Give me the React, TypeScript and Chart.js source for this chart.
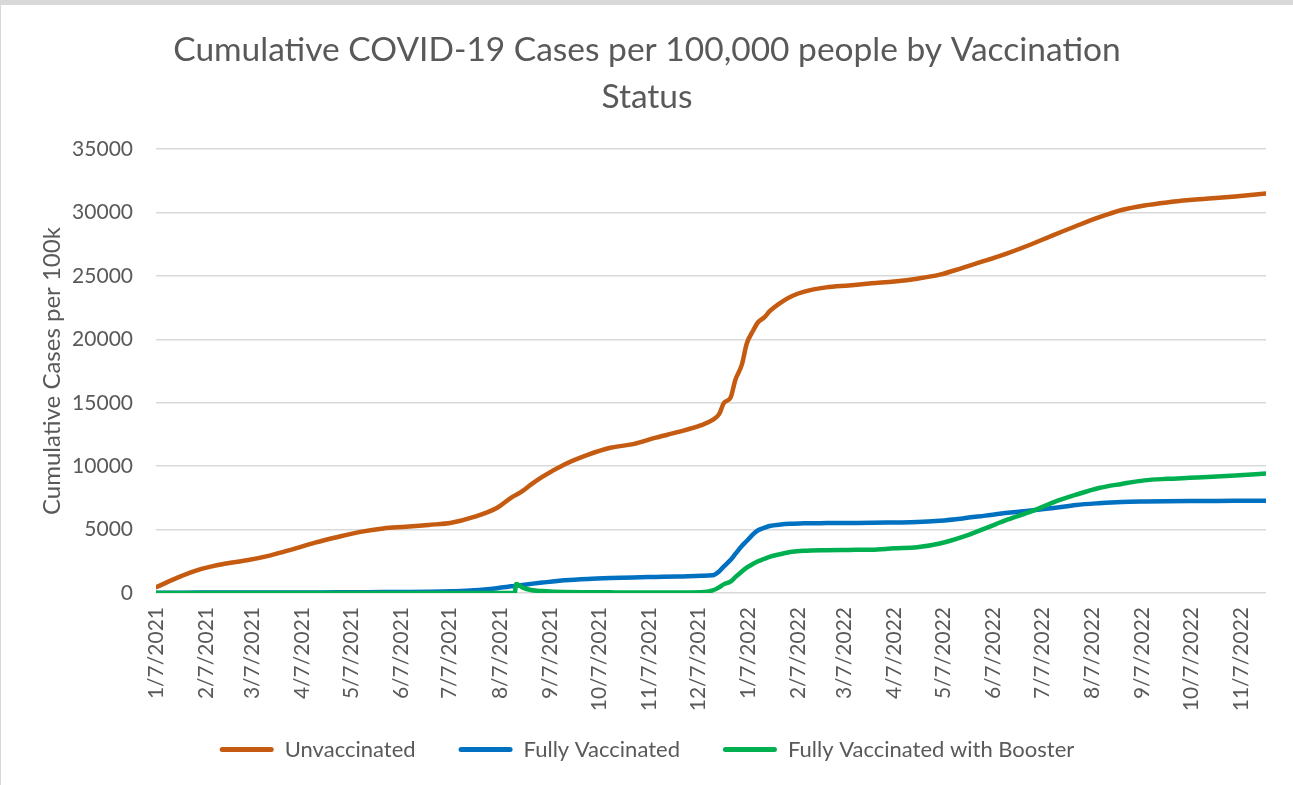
import React, { useEffect, useRef } from "react";
import { Chart, registerables } from "chart.js";

Chart.register(...registerables);

// ---------- data ----------
const titleLines = ["Cumulative COVID-19 Cases per 100,000 people by Vaccination", "Status"];
const yAxisTitle = "Cumulative Cases per 100k";
const seriesNames = ["Unvaccinated", "Fully Vaccinated", "Fully Vaccinated with Booster"];
const seriesColors = ["#C55A11", "#0070C0", "#00B050"];

const xTickLabels = [
  "1/7/2021", "2/7/2021", "3/7/2021", "4/7/2021", "5/7/2021", "6/7/2021",
  "7/7/2021", "8/7/2021", "9/7/2021", "10/7/2021", "11/7/2021", "12/7/2021",
  "1/7/2022", "2/7/2022", "3/7/2022", "4/7/2022", "5/7/2022", "6/7/2022",
  "7/7/2022", "8/7/2022", "9/7/2022", "10/7/2022", "11/7/2022",
];

const sampleDates = [
  "2021-01-07", "2021-01-21", "2021-02-04", "2021-02-18", "2021-03-04", "2021-03-18",
  "2021-04-01", "2021-04-15", "2021-04-29", "2021-05-13", "2021-05-27", "2021-06-10",
  "2021-06-24", "2021-07-08", "2021-07-22", "2021-08-05", "2021-08-12", "2021-08-16",
  "2021-08-17", "2021-08-21", "2021-08-26", "2021-09-02", "2021-09-16", "2021-09-30",
  "2021-10-14", "2021-10-28", "2021-11-11", "2021-11-25", "2021-12-09", "2021-12-16",
  "2021-12-20", "2021-12-23", "2021-12-27", "2021-12-30", "2022-01-03", "2022-01-06",
  "2022-01-10", "2022-01-13", "2022-01-17", "2022-01-20", "2022-01-27", "2022-02-03",
  "2022-02-10", "2022-02-24", "2022-03-10", "2022-03-24", "2022-04-07", "2022-04-21",
  "2022-05-05", "2022-05-19", "2022-06-02", "2022-06-16", "2022-06-30", "2022-07-14",
  "2022-07-28", "2022-08-11", "2022-08-25", "2022-09-08", "2022-09-22", "2022-10-06",
  "2022-10-20", "2022-11-03", "2022-11-22",
];

const unvaccinated = [
  450, 1250, 1900, 2300, 2580, 2950, 3440, 3970, 4420, 4820,
  5090, 5220, 5370, 5540, 6000, 6700, 7350, 7680, 7740, 8050,
  8540, 9150, 10150, 10890, 11450, 11740, 12250, 12700, 13230, 13650,
  14100, 15000, 15400, 16800, 18000, 19650, 20700, 21350, 21750, 22200,
  22900, 23420, 23750, 24100, 24250, 24420, 24560, 24780, 25100, 25640,
  26200, 26800, 27480, 28220, 28940, 29620, 30200, 30560, 30800, 30980,
  31120, 31270, 31500,
];

const fullyVaccinated = [
  20, 25, 30, 30, 35, 35, 40, 45, 50, 60,
  70, 85, 105, 140, 210, 380, 500, 560, 580, 640,
  720, 820, 1000, 1110, 1180, 1230, 1265, 1300, 1360, 1400,
  1700, 2100, 2600, 3080, 3700, 4100, 4650, 4950, 5150, 5280,
  5400, 5460, 5500, 5510, 5520, 5530, 5560, 5590, 5700, 5880,
  6100, 6320, 6500, 6700, 6940, 7080, 7180, 7220, 7240, 7250,
  7260, 7270, 7280,
];

const fullyVaccinatedBooster = [
  0, 0, 0, 0, 0, 0, 0, 0, 0, 0,
  0, 0, 0, 0, 0, 0, 0, 0, 700, 420,
  230, 150, 70, 60, 50, 45, 40, 40, 60, 200,
  450, 700, 900, 1250, 1700, 2000, 2300, 2500, 2700, 2850,
  3070, 3250, 3330, 3380, 3400, 3420, 3520, 3600, 3900, 4420,
  5100, 5800, 6410, 7150, 7750, 8280, 8600, 8880, 9000, 9080,
  9160, 9260, 9430,
];

const yTickValues = [0, 5000, 10000, 15000, 20000, 25000, 30000, 35000];

// ---------- helpers ----------
const FONT = "Lato, 'Open Sans', sans-serif";
const TEXT = "#595959";
const GRID = "#d9d9d9";

const baseUTC = (() => {
  const [y, m, d] = sampleDates[0].split("-").map(Number);
  return Date.UTC(y, m - 1, d);
})();
const isoDay = (iso: string) => {
  const [y, m, d] = iso.split("-").map(Number);
  return Math.round((Date.UTC(y, m - 1, d) - baseUTC) / 86400000);
};
const mdyDay = (s: string) => {
  const [m, d, y] = s.split("/").map(Number);
  return Math.round((Date.UTC(y, m - 1, d) - baseUTC) / 86400000);
};
const xDays = sampleDates.map(isoDay);
const tickDays = xTickLabels.map(mdyDay);
const seriesValues = [unvaccinated, fullyVaccinated, fullyVaccinatedBooster];

export default function App() {
  const ref = useRef<HTMLCanvasElement | null>(null);

  useEffect(() => {
    if (!ref.current) return;
    const chart = new Chart(ref.current, {
      type: "line",
      data: {
        datasets: seriesNames.map((name, i) => ({
          label: name,
          data: seriesValues[i].map((v, k) => ({ x: xDays[k], y: v })),
          borderColor: seriesColors[i],
          backgroundColor: seriesColors[i],
          borderWidth: 4.5,
          pointRadius: 0,
          cubicInterpolationMode: "monotone" as const,
          borderCapStyle: "round" as const,
          borderJoinStyle: "round" as const,
          fill: false,
          order: 2 - i,
        })),
      },
      options: {
        animation: false,
        responsive: false,
        devicePixelRatio: 1,
        layout: { padding: { left: 14, right: 13, top: 0, bottom: 14.5 } },
        plugins: {
          tooltip: { enabled: false },
          title: {
            display: true,
            text: titleLines,
            color: TEXT,
            font: { family: FONT, size: 33.5, weight: "normal", lineHeight: 1.39 },
            padding: { top: 27, bottom: 29 },
          },
          legend: {
            position: "bottom",
            labels: {
              color: TEXT,
              font: { family: FONT, size: 22 },
              boxWidth: 54,
              boxHeight: 5,
              padding: 43,
              useBorderRadius: true,
              borderRadius: 2.5,
              generateLabels: () =>
                seriesNames.map((name, i) => ({
                  text: name,
                  fillStyle: seriesColors[i],
                  strokeStyle: seriesColors[i],
                  lineWidth: 0,
                  fontColor: TEXT,
                  hidden: false,
                  datasetIndex: i,
                  borderRadius: 2.5,
                })),
            },
          },
        },
        scales: {
          x: {
            type: "linear",
            min: xDays[0],
            max: xDays[xDays.length - 1],
            afterBuildTicks: (scale: any) => {
              scale.ticks = tickDays.map((v) => ({ value: v }));
            },
            afterFit: (scale: any) => {
              scale.height = 102.5;
              scale.paddingRight = 27;
              // let the rotated labels extend below the axis box (as in the original)
              scale._computeLabelArea = () => undefined;
            },
            ticks: {
              autoSkip: false,
              minRotation: 90,
              maxRotation: 90,
              padding: 14,
              color: TEXT,
              font: { family: FONT, size: 21 },
              callback: (value: any) => {
                const i = tickDays.indexOf(Number(value));
                return i >= 0 ? xTickLabels[i] : "";
              },
            },
            grid: { display: false, drawTicks: false },
            border: { display: false },
          },
          y: {
            min: 0,
            max: 35000,
            afterBuildTicks: (scale: any) => {
              scale.ticks = yTickValues.map((v) => ({ value: v }));
            },
            afterFit: (scale: any) => {
              scale.width = 142;
            },
            ticks: {
              padding: 23,
              color: TEXT,
              font: { family: FONT, size: 21 },
              callback: (value: any) => String(value),
            },
            grid: { color: GRID, lineWidth: 1.4, drawTicks: false },
            border: { display: false },
            title: {
              display: true,
              text: yAxisTitle,
              color: TEXT,
              font: { family: FONT, size: 24 },
              padding: { top: 24, bottom: 0 },
            },
          },
        },
      },
    });
    return () => chart.destroy();
  }, []);

  return (
    <div style={{ position: "relative", width: 1293, height: 785, background: "#ffffff", overflow: "hidden" }}>
      <style>{"body{margin:0;background:#fff}"}</style>
      <canvas ref={ref} width={1293} height={785} style={{ display: "block" }} />
      <div style={{ position: "absolute", left: 0, top: 0, width: 1293, height: 5, background: "#d9d9d9" }} />
      <div style={{ position: "absolute", left: 0, top: 0, width: 1, height: 785, background: "#d9d9d9" }} />
    </div>
  );
}
